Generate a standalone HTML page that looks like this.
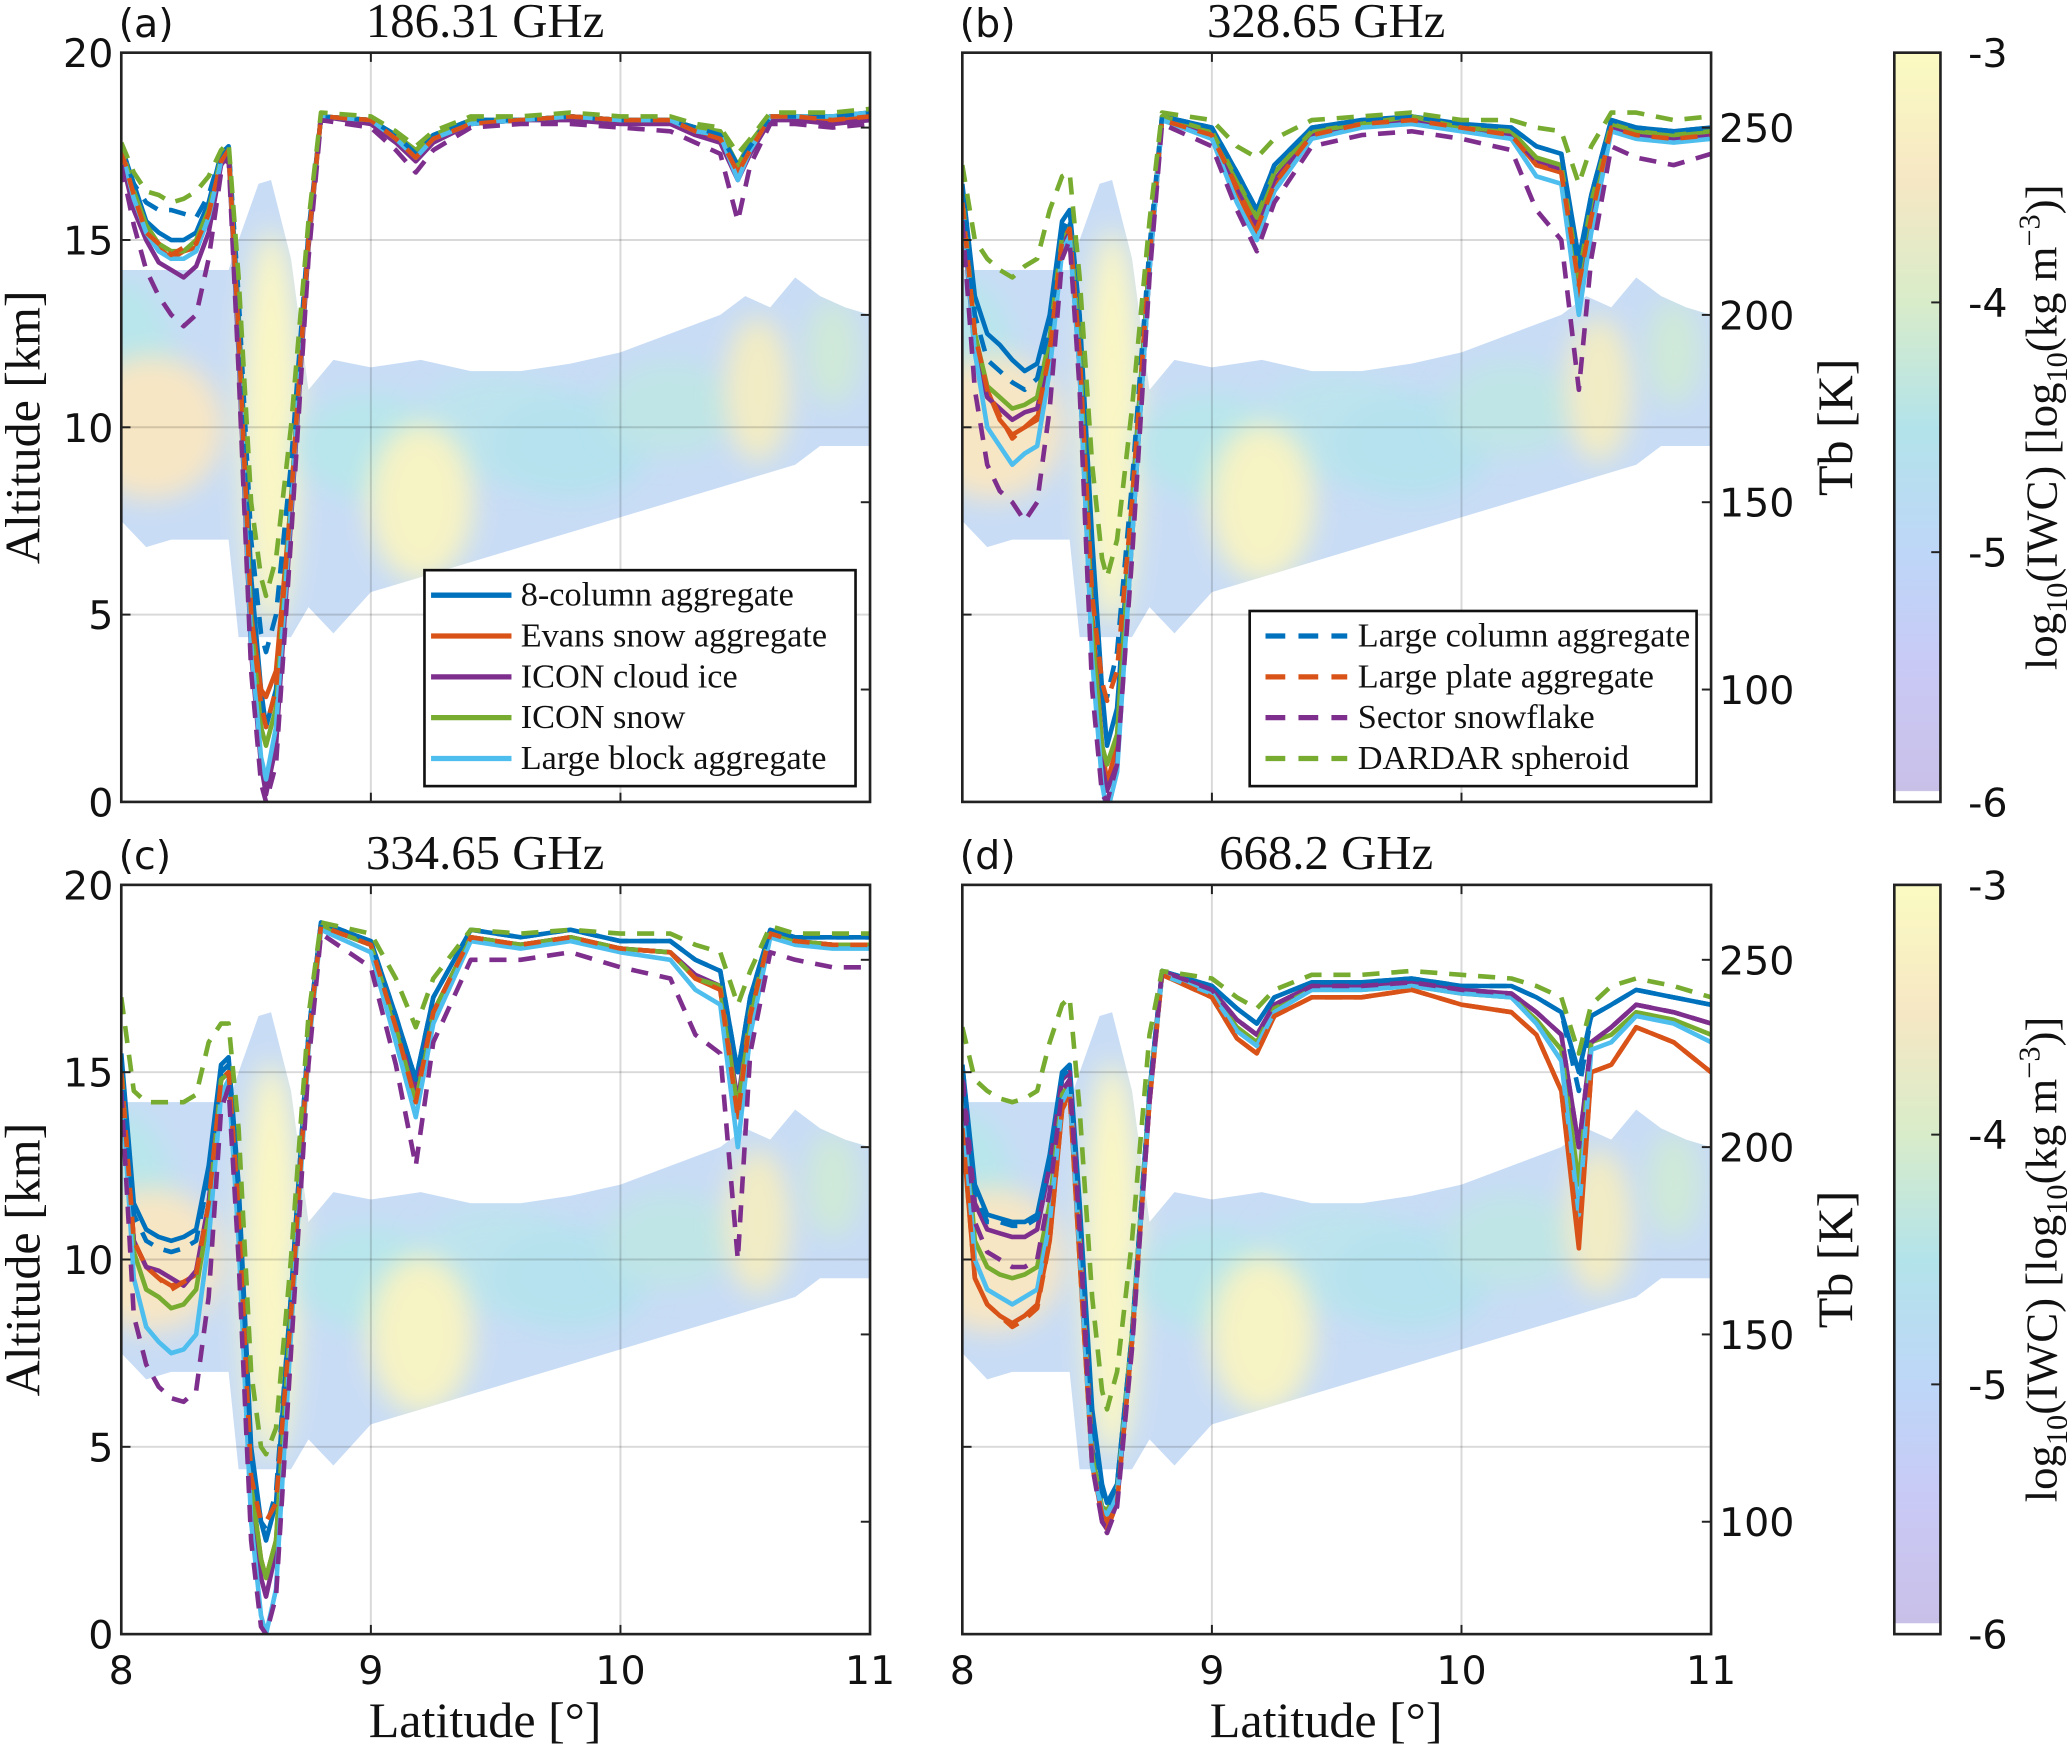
<!DOCTYPE html>
<html><head><meta charset="utf-8"><style>
html,body{margin:0;padding:0;background:#fff}
svg{display:block}
.tk{font-family:"DejaVu Sans","Liberation Sans",sans-serif;font-size:30px;fill:#111}
.sf{font-family:"Liberation Serif",serif;fill:#111}
</style></head><body>
<svg id="fig" width="2067" height="1750" viewBox="0 0 1568 1329" preserveAspectRatio="none" xmlns="http://www.w3.org/2000/svg">
<defs>
<filter id="blur" x="-50%" y="-50%" width="200%" height="200%"><feGaussianBlur stdDeviation="10"/></filter>
<linearGradient id="cbg" x1="0" y1="0" x2="0" y2="1">
<stop offset="0" stop-color="#fbfbc2"/><stop offset="0.17" stop-color="#f6e7c4"/>
<stop offset="0.33" stop-color="#d9ecc9"/><stop offset="0.5" stop-color="#b3e3ea"/>
<stop offset="0.67" stop-color="#bed6f8"/><stop offset="0.83" stop-color="#c9c9f5"/>
<stop offset="0.985" stop-color="#c9c0e8"/><stop offset="0.986" stop-color="#ffffff"/><stop offset="1" stop-color="#ffffff"/>
</linearGradient>
</defs>
<g id="root"></g>
</svg>
<script>
// shared latitude grid
const lat = [8.0,8.05,8.1,8.15,8.2,8.25,8.3,8.35,8.4,8.43,8.47,8.52,8.56,8.58,8.62,8.68,8.75,8.8,9.0,9.1,9.18,9.25,9.4,9.6,9.8,10.0,10.2,10.3,10.4,10.47,10.52,10.6,10.7,10.85,11.0];
const seriesNames = ["8-column aggregate","Evans snow aggregate","ICON cloud ice","ICON snow","Large block aggregate","Large column aggregate","Large plate aggregate","Sector snowflake","DARDAR spheroid"];
const panelTitles = ["186.31 GHz","328.65 GHz","334.65 GHz","668.2 GHz"];
const xTicks = [8,9,10,11];
const altTicks = [0,5,10,15,20];
const tbTicks = [100,150,200,250];
const cbTicks = [-3,-4,-5,-6];
// Panel (a) Tb [K]
const a_s1=[245,235,225,222,220,220,222,230,243,245,200,130,100,90,100,150,220,253,252,248,243,248,252,252,253,252,252,250,248,240,245,253,253,253,254];
const a_s2=[244,232,222,218,215,217,218,226,241,244,195,120,100,98,105,150,220,253,252,247,242,247,251,252,253,252,252,249,247,238,244,253,253,252,253];
const a_s3=[242,228,220,214,212,210,213,222,240,243,190,110,80,72,85,145,218,253,251,246,241,246,251,252,252,251,251,248,246,236,243,252,252,251,252];
const a_s4=[245,233,224,219,217,217,220,228,242,244,197,118,90,85,95,150,220,253,252,248,244,248,252,252,253,252,252,250,249,240,246,253,253,253,254];
const a_s5=[244,231,222,217,215,215,217,226,241,244,193,112,82,76,90,148,220,253,252,247,242,247,251,252,253,252,252,249,248,236,244,253,253,253,254];
const a_d1=[245,235,230,228,228,227,226,232,243,245,205,140,115,110,120,160,222,253,252,248,243,248,252,252,253,252,252,250,248,240,245,253,253,253,254];
const a_d2=[244,232,222,219,216,218,219,227,241,244,195,120,96,90,100,150,220,253,252,247,242,247,251,252,253,252,252,249,247,238,244,253,253,252,253];
const a_d3=[240,224,212,205,200,197,200,215,238,242,185,105,75,70,80,140,215,252,250,244,238,244,250,251,251,250,249,246,243,225,240,251,251,250,251];
const a_d4=[246,238,233,232,230,231,233,237,244,246,210,150,130,125,135,170,225,254,253,249,245,249,253,253,254,253,253,251,250,243,247,254,254,254,255];
// Panel (b)
const b_s1=[235,205,195,192,188,185,187,200,225,228,200,140,100,85,95,150,215,253,250,238,228,240,250,252,253,251,250,245,243,215,232,252,250,249,250];
const b_s2=[230,195,180,172,168,170,172,190,220,223,190,120,85,75,85,145,215,252,248,233,222,235,248,251,252,250,248,240,238,205,225,250,248,247,248];
const b_s3=[228,190,178,175,172,174,175,190,218,222,185,110,80,73,80,140,212,252,248,234,224,236,248,251,252,250,248,241,239,210,228,250,248,247,248];
const b_s4=[232,195,181,178,175,176,178,194,221,224,192,115,85,80,88,148,215,253,249,236,226,238,249,251,253,250,249,242,240,210,230,251,249,248,249];
const b_s5=[230,190,170,165,160,163,165,185,217,221,185,108,75,67,78,140,212,252,247,230,220,233,247,250,251,249,247,237,235,200,222,249,247,246,247];
const b_d1=[233,200,188,185,182,180,183,197,222,226,195,130,100,98,110,155,218,253,250,238,228,240,250,252,253,251,250,245,243,212,232,252,250,249,250];
const b_d2=[230,195,180,173,167,170,173,190,220,223,190,125,102,97,105,150,215,252,248,234,223,235,248,251,252,250,248,240,238,208,226,250,248,247,248];
const b_d3=[225,180,160,153,150,145,150,175,215,220,180,100,72,70,80,135,210,251,245,228,217,230,245,248,249,247,244,228,220,180,215,245,242,240,243];
const b_d4=[240,220,215,212,210,213,215,228,237,238,210,160,135,130,140,175,225,254,252,245,242,247,252,253,254,252,252,250,249,235,245,254,254,252,253];
// Panel (c)
const c_s1=[225,185,178,176,175,176,178,195,222,224,190,120,100,95,105,160,230,260,255,235,218,240,258,256,258,255,255,250,247,220,240,258,256,256,256];
const c_s2=[220,175,168,165,163,164,166,185,218,220,183,110,90,85,95,155,228,259,254,232,212,236,256,254,256,253,252,245,242,208,235,257,255,254,254];
const c_s3=[220,175,168,167,165,163,167,185,218,220,183,110,85,80,92,152,228,259,254,232,215,236,256,254,256,253,252,246,243,212,236,257,255,254,254];
const c_s4=[222,172,162,160,157,158,162,182,218,220,183,110,90,85,95,155,228,259,254,232,212,236,256,254,256,253,252,245,243,210,236,257,255,254,254];
const c_s5=[218,165,152,148,145,146,150,175,214,218,175,100,75,70,82,150,226,258,252,228,208,233,255,253,255,252,250,242,238,200,230,256,254,253,253];
const c_d1=[223,182,175,173,172,173,175,192,220,222,188,118,100,98,108,160,230,260,255,235,218,240,258,256,258,255,255,250,247,220,240,258,256,256,256];
const c_d2=[220,175,168,165,162,164,166,185,218,220,183,112,100,100,105,155,228,259,254,232,212,236,256,254,256,253,252,245,242,208,235,257,255,254,254];
const c_d3=[215,155,142,136,133,132,135,160,210,216,170,95,72,70,80,145,222,257,248,222,195,228,250,250,252,248,245,230,225,170,225,252,250,248,248];
const c_d4=[240,215,212,212,212,212,214,228,233,233,205,140,120,118,125,170,235,260,257,245,232,245,258,257,258,257,257,254,252,238,247,259,257,257,257];
// Panel (d)
const d_s1=[222,190,182,181,180,180,182,198,220,222,185,130,110,105,110,150,215,247,243,237,233,240,244,244,245,243,243,240,236,220,235,238,242,240,238];
const d_s2=[205,165,158,155,153,155,158,175,210,215,170,115,102,100,106,148,212,246,240,229,225,235,240,240,242,238,236,230,215,173,220,222,232,228,220];
const d_s3=[220,185,178,177,176,176,178,195,218,220,180,120,100,98,105,148,213,247,242,234,230,238,243,243,244,242,241,236,230,200,228,232,238,236,233];
const d_s4=[215,175,168,166,165,166,168,185,214,217,175,118,104,103,108,150,214,246,241,232,228,237,242,242,243,241,240,234,226,190,228,230,236,234,230];
const d_s5=[212,170,162,160,158,160,162,180,212,216,172,115,103,102,107,148,213,246,241,231,227,236,242,242,243,241,240,233,223,182,226,228,235,233,228];
const d_d1=[222,188,180,180,179,179,181,196,219,221,183,128,108,104,110,150,215,247,243,237,233,240,244,244,245,243,243,240,236,215,235,238,242,240,238];
const d_d2=[205,165,158,155,152,154,157,175,210,214,170,115,102,98,105,148,212,246,240,229,225,235,240,240,242,238,236,230,215,175,220,222,232,228,220];
const d_d3=[218,180,172,170,168,168,170,188,215,218,178,115,100,97,104,146,212,247,242,234,230,238,243,243,244,242,241,236,230,200,228,232,238,236,233];
const d_d4=[232,218,215,213,212,213,215,228,238,240,210,160,135,130,140,175,230,247,245,240,237,242,246,246,247,246,245,243,240,225,238,243,245,243,240];
// cloud outline (lat, altitude km)
const cloudLat = [8.0,8.1,8.2,8.3,8.43,8.47,8.55,8.6,8.68,8.75,8.85,9.0,9.2,9.4,9.6,9.8,10.0,10.2,10.4,10.5,10.6,10.7,10.8,10.9,11.0];
const cloudTop = [14.2,14.2,14.2,14.2,14.2,15.0,16.5,16.6,14.5,11.0,11.8,11.6,11.8,11.5,11.5,11.7,12.0,12.5,13.0,13.5,13.2,14.0,13.5,13.2,13.0];
const cloudBot = [7.5,6.8,7.0,7.0,7.0,4.4,4.4,4.4,4.4,5.2,4.5,5.6,6.0,6.4,6.8,7.2,7.6,8.0,8.4,8.6,8.8,9.0,9.5,9.5,9.5];

const colors = ["#0072BD","#D95319","#7E2F8E","#77AC30","#4DBEEE","#0072BD","#D95319","#7E2F8E","#77AC30"];
const panelData = [[a_s1,a_s2,a_s3,a_s4,a_s5,a_d1,a_d2,a_d3,a_d4],[b_s1,b_s2,b_s3,b_s4,b_s5,b_d1,b_d2,b_d3,b_d4],[c_s1,c_s2,c_s3,c_s4,c_s5,c_d1,c_d2,c_d3,c_d4],[d_s1,d_s2,d_s3,d_s4,d_s5,d_d1,d_d2,d_d3,d_d4]];
const panelLetters = ["(a)","(b)","(c)","(d)"];
const boxes = [{x:92,y:40},{x:730,y:40},{x:92,y:672},{x:730,y:672}];
const W = 568, H = 569;
const NS = "http://www.w3.org/2000/svg";
const root = document.getElementById('root');
function mk(tag, attrs, parent){ const e=document.createElementNS(NS,tag); for(const k in attrs) e.setAttribute(k,attrs[k]); (parent||root).appendChild(e); return e; }

panelData.forEach((series, p) => {
  const bx = boxes[p].x, by = boxes[p].y;
  const xs = v => bx + (v-8)/3*W;
  const ya = v => by + H - v/20*H;
  const yt = v => by + H - (v-70)/200*H;
  const g = mk('g', {});
  
  
  const cid = 'clip'+p;
  const cp = mk('clipPath', {id:cid}, g);
  mk('rect', {x:bx, y:by, width:W, height:H}, cp);
  // cloud
  const cg = mk('g', {'clip-path':'url(#'+cid+')'}, g);
  
  
  let pts = cloudLat.map((l,i)=>xs(l)+','+ya(cloudTop[i]));
  pts = pts.concat(cloudLat.map((l,i)=>xs(l)+','+ya(cloudBot[i])).reverse());
  const ccid = 'cc'+p;
  const ccp = mk('clipPath', {id:ccid}, g);
  mk('polygon', {points:pts.join(' ')}, ccp);
  mk('polygon', {points:pts.join(' '), fill:'#c8dcf5'}, cg);
  const inner = mk('g', {'clip-path':'url(#'+ccid+')'}, cg);
  [[8.0,11.5,40,70,'#b8e6ec'],[8.12,10,55,55,'#f7e6c4'],[8.6,10,22,150,'#fbf7c4'],[9.0,9.5,55,40,'#b8e6ec'],[9.5,10,60,40,'#bde4ee'],[9.2,8,40,60,'#f6f3c4'],[9.8,9.5,60,40,'#b5e2ee'],[10.2,10.5,50,35,'#bfe5e6'],[10.55,11,25,55,'#f2ecc4'],[10.85,12,20,40,'#cfe9d8']].forEach(b=>{
    mk('ellipse', {cx:xs(b[0]), cy:ya(b[1]), rx:b[2], ry:b[3], fill:b[4], filter:'url(#blur)'}, inner);
  });
  // grid
  [9,10].forEach(v=>mk('line',{x1:xs(v),x2:xs(v),y1:by,y2:by+H,stroke:'#000','stroke-opacity':0.15,'stroke-width':1.5},g));
  [5,10,15].forEach(v=>mk('line',{x1:bx,x2:bx+W,y1:ya(v),y2:ya(v),stroke:'#000','stroke-opacity':0.15,'stroke-width':1.5},g));
  // lines
  const lg = mk('g', {'clip-path':'url(#'+cid+')'}, g);
  series.forEach((arr, s) => {
    const d = arr.map((v,i)=>(i?'L':'M')+xs(lat[i]).toFixed(1)+','+yt(v).toFixed(1)).join(' ');
    const path = mk('path', {d:d, fill:'none', stroke:colors[s], 'stroke-width':3.5, 'stroke-linejoin':'round'}, lg);
    if (s >= 5) path.setAttribute('stroke-dasharray', '13,9');
    
    
  });
  // axes box
  mk('rect', {x:bx, y:by, width:W, height:H, fill:'none', stroke:'#222', 'stroke-width':2}, g);
  // ticks
  xTicks.forEach(v=>{ mk('line',{x1:xs(v),x2:xs(v),y1:by+H,y2:by+H-7,stroke:'#222','stroke-width':1.5},g); mk('line',{x1:xs(v),x2:xs(v),y1:by,y2:by+7,stroke:'#222','stroke-width':1.5},g); });
  altTicks.forEach(v=>{ mk('line',{x1:bx,x2:bx+7,y1:ya(v),y2:ya(v),stroke:'#222','stroke-width':1.5},g); });
  tbTicks.forEach(v=>{ mk('line',{x1:bx+W-7,x2:bx+W,y1:yt(v),y2:yt(v),stroke:'#222','stroke-width':1.5},g); });
  if (p % 2 === 0) {
    altTicks.forEach(v=>{ const t=mk('text',{x:bx-6,y:ya(v)+11,'text-anchor':'end',class:'tk'},g); t.textContent=v;
        });
    const yl = mk('text',{x:0,y:0,transform:'translate(30,'+(by+H/2)+') rotate(-90)','text-anchor':'middle',class:'sf','font-size':38},g);
    yl.textContent='Altitude [km]';
     
  } else {
    tbTicks.forEach(v=>{ const t=mk('text',{x:bx+W+6,y:yt(v)+11,class:'tk'},g); t.textContent=v;
        });
    const tl = mk('text',{x:0,y:0,transform:'translate(1405,'+(by+H/2)+') rotate(-90)','text-anchor':'middle',class:'sf','font-size':38},g);
    tl.textContent='Tb [K]';
     
  }
  if (p >= 2) {
    xTicks.forEach(v=>{ const t=mk('text',{x:xs(v),y:by+H+38,'text-anchor':'middle',class:'tk'},g); t.textContent=v;
        });
    const xl = mk('text',{x:bx+W/2-8,y:by+H+78,'text-anchor':'middle',class:'sf','font-size':38},g);
    xl.textContent='Latitude [°]';
     
  }
  const pl = mk('text',{x:bx-2,y:by-12,class:'tk','font-size':28},g); pl.textContent=panelLetters[p];
   
  const tt = mk('text',{x:bx+W/2-8,y:by-12,'text-anchor':'middle',class:'sf','font-size':37},g); tt.textContent=panelTitles[p];
   
});

// legends
function legend(x, y, w, h, idxs, dashed, tx, lx1, lx2){
  const g = mk('g', {});
  
  
  mk('rect', {x:x, y:y, width:w, height:h, fill:'#fff', stroke:'#111', 'stroke-width':2}, g);
  idxs.forEach((s,i)=>{
    const cy = y + 19 + i*31;
    const ln = mk('line', {x1:lx1, x2:lx2, y1:cy, y2:cy, stroke:colors[s], 'stroke-width':4}, g);
    if (dashed) ln.setAttribute('stroke-dasharray','15,10');
    const t = mk('text', {x:tx, y:cy+8, class:'sf', 'font-size':26}, g);
    t.textContent = seriesNames[s];
     
  });
}
legend(322, 433, 327, 164, [0,1,2,3,4], false, 395, 327, 388);
legend(948, 464, 339, 133, [5,6,7,8], true, 1030, 960, 1022);

// colorbars
[40, 672].forEach((y0, k) => {
  const g = mk('g', {});
  
  
  mk('rect', {x:1437, y:y0, width:35, height:H, fill:'url(#cbg)', stroke:'#222', 'stroke-width':2}, g);
  cbTicks.forEach(v => {
    const yy = y0 + (-3 - v)/3*H;
    mk('line', {x1:1465, x2:1472, y1:yy, y2:yy, stroke:'#222', 'stroke-width':1.5}, g);
    const t = mk('text', {x:1493, y:yy+11, class:'tk'}, g); t.textContent = v;
     
  });
  const lb = mk('text', {x:0, y:0, transform:'translate(1560,'+(y0+H/2)+') rotate(-90)', 'text-anchor':'middle', class:'sf', 'font-size':34}, g);
  lb.innerHTML = 'log<tspan font-size="23" dy="8">10</tspan><tspan dy="-8">(IWC) [log</tspan><tspan font-size="23" dy="8">10</tspan><tspan dy="-8">(kg m</tspan><tspan font-size="23" dy="-13">−3</tspan><tspan dy="13">)]</tspan>';
   
});
</script>
</body></html>
